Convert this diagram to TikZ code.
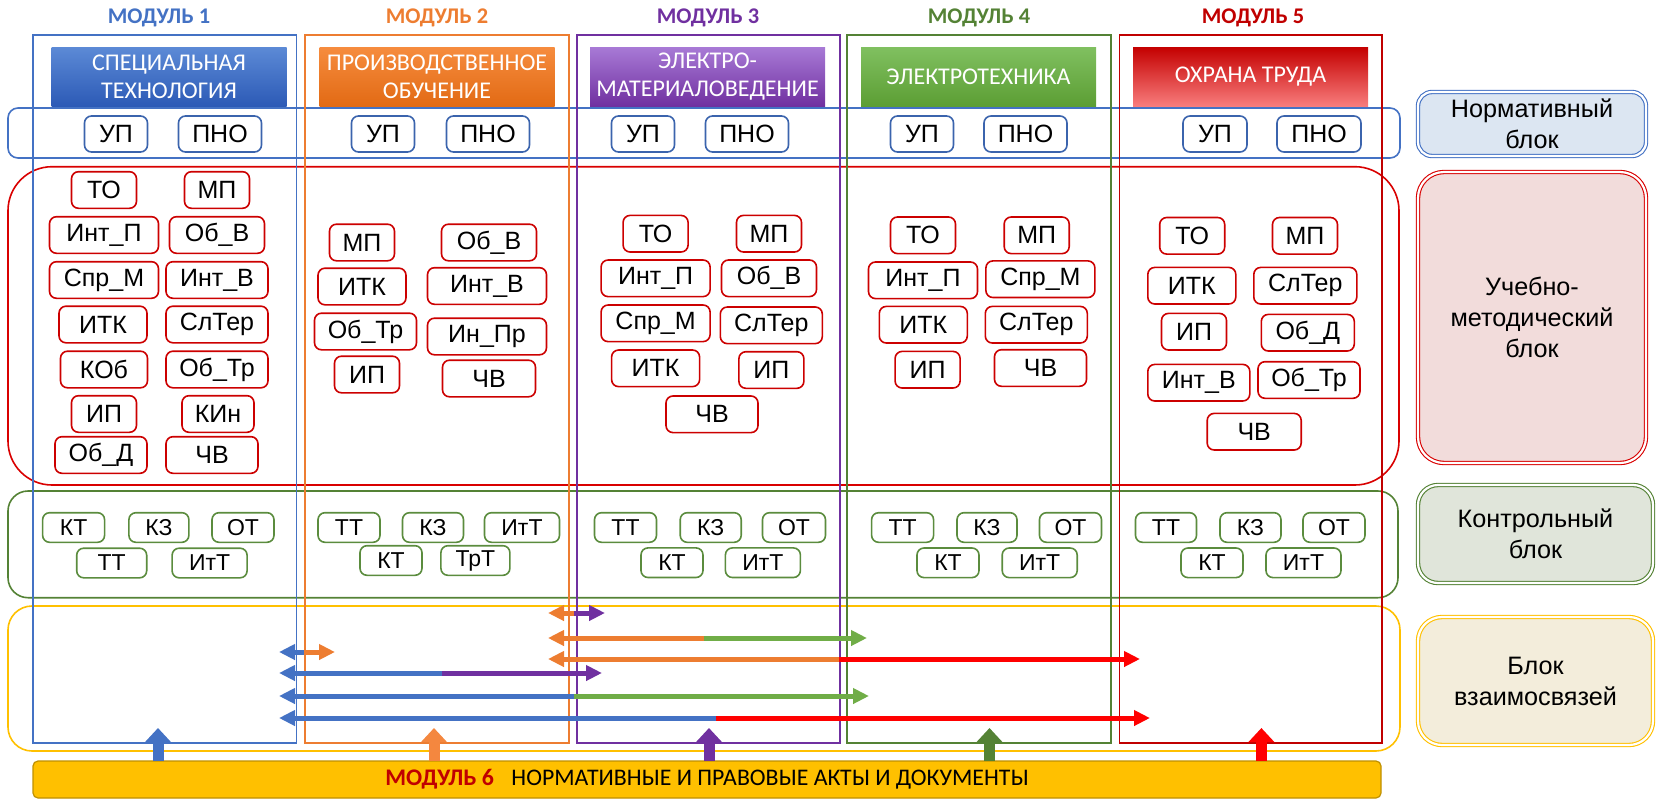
\documentclass[tikz,border=0pt]{standalone}
\usepackage{fontspec}
\setmainfont{Liberation Sans}
\newfontfamily\carl{Carlito}
\usetikzlibrary{arrows.meta}
\definecolor{cblue}{HTML}{4472C4}
\definecolor{corange}{HTML}{ED7D31}
\definecolor{clorange}{HTML}{F4873F}
\definecolor{cpurple}{HTML}{7030A0}
\definecolor{cgreen}{HTML}{548235}
\definecolor{clgreen}{HTML}{70AD47}
\definecolor{cred}{HTML}{C00000}
\definecolor{cbred}{HTML}{FF0000}
\definecolor{cgold}{HTML}{FFC000}
\definecolor{cdgold}{HTML}{BF9000}
\definecolor{nblue}{HTML}{3B64AD}
\definecolor{ured}{HTML}{CC0000}
\definecolor{kgreen}{HTML}{5B8C3E}
\definecolor{lblue}{HTML}{DCE6F2}
\definecolor{lpink}{HTML}{F2DCDB}
\definecolor{lgray}{HTML}{E0E5DA}
\definecolor{lcream}{HTML}{F3EDDB}
\definecolor{t1a}{RGB}{92,138,214}\definecolor{t1b}{RGB}{44,90,182}
\definecolor{t2a}{RGB}{246,140,62}\definecolor{t2b}{RGB}{226,106,20}
\definecolor{t3a}{RGB}{168,122,214}\definecolor{t3b}{RGB}{112,48,160}
\definecolor{t4a}{RGB}{128,192,96}\definecolor{t4b}{RGB}{92,158,52}
\definecolor{t5a}{RGB}{196,0,0}\definecolor{t5m}{RGB}{232,0,0}\definecolor{t5b}{RGB}{248,124,124}
\tikzset{
  x=0.5pt, y=-0.5pt,
  smallbox/.style={line width=0.8pt, rounded corners=3.5pt, inner sep=0pt, fill=white},
  nbox/.style={smallbox, draw=nblue, minimum height=18pt, font=\fontsize{12.5}{14}\selectfont},
  ubox/.style={smallbox, draw=ured, minimum height=18.3pt, font=\fontsize{12.5}{14}\selectfont},
  kbox/.style={smallbox, draw=kgreen, minimum height=14.8pt, font=\fontsize{11.5}{13}\selectfont},
  modrect/.style={line width=0.8pt},
  band/.style={line width=0.8pt},
  titlebox/.style={minimum width=117.5pt, minimum height=29.5pt, text=white, align=center, inner sep=0pt, font=\carl\fontsize{12}{14}\selectfont},
  modhead/.style={font=\carl\bfseries\fontsize{11.2}{13}\selectfont},
  lbl/.style={double=white, double distance=1.1pt, line width=0.55pt, align=center, inner sep=0pt, font=\fontsize{12.6}{15.5}\selectfont},
  harrow/.style={line width=2.5pt, -{Triangle[length=8pt,width=7.5pt]}},
  uparrow/.style={line width=5.5pt, -{Triangle[length=7pt,width=12.5pt]}},
}
\newcommand\bx[6]{\node[#1, minimum width=#5*0.5pt] (#2) at (#3,#4) {#6};}
\begin{document}
\begin{tikzpicture}
\useasboundingbox (0,0) rectangle (1656,799);
% bands
\draw[band, draw=cbred!85!black, rounded corners=22pt] (8,166.7) rectangle (1399,485);
\draw[band, draw=cblue, rounded corners=5pt] (8,108) rectangle (1400,158);
\draw[band, draw=cgreen, rounded corners=10pt] (8,491) rectangle (1398,597.7);
\draw[band, draw=cgold, rounded corners=12pt] (8,606) rectangle (1400,751);
% module rectangles
\draw[modrect, cblue] (33,35) rectangle (296.5,743);
\draw[modrect, corange] (305,35) rectangle (569,743);
\draw[modrect, cpurple] (577,35) rectangle (840,743);
\draw[modrect, cgreen] (847,35) rectangle (1111,743);
\draw[modrect, cred] (1119.5,35) rectangle (1382,743);
% headings
\node[modhead, text=cblue] (h1) at (159,18) {МОДУЛЬ 1};
\node[modhead, text=corange] (h2) at (437,18) {МОДУЛЬ 2};
\node[modhead, text=cpurple] (h3) at (708,18) {МОДУЛЬ 3};
\node[modhead, text=cgreen] (h4) at (979,18) {МОДУЛЬ 4};
\node[modhead, text=cred] (h5) at (1253,18) {МОДУЛЬ 5};
% titles
\node[titlebox, top color=t1a, bottom color=t1b] (t1) at (169,76.5) {СПЕЦИАЛЬНАЯ\\ТЕХНОЛОГИЯ};
\node[titlebox, top color=t2a, bottom color=t2b] (t2) at (437,76.5) {ПРОИЗВОДСТВЕННОЕ\\ОБУЧЕНИЕ};
\node[titlebox, top color=t3a, bottom color=t3b] (t3) at (707.5,76.5) {ЭЛЕКТРО-\\МАТЕРИАЛОВЕДЕНИЕ};
\node[titlebox, top color=t4a, bottom color=t4b] (t4) at (978.5,76.5) {ЭЛЕКТРОТЕХНИКА};
\node[titlebox, top color=t5a, middle color=t5m, bottom color=t5b] (t5) at (1250.5,76.5) {ОХРАНА ТРУДА};
% normative boxes
\bx{nbox}{n1u}{116}{134}{63}{УП}
\bx{nbox}{n1p}{220}{134}{83}{ПНО}
\bx{nbox}{n2u}{383}{134}{63}{УП}
\bx{nbox}{n2p}{488}{134}{83}{ПНО}
\bx{nbox}{n3u}{643}{134}{63}{УП}
\bx{nbox}{n3p}{747}{134}{83}{ПНО}
\bx{nbox}{n4u}{922}{134}{63}{УП}
\bx{nbox}{n4p}{1025.5}{134}{83}{ПНО}
\bx{nbox}{n5u}{1215}{134}{64}{УП}
\bx{nbox}{n5p}{1319}{134}{84}{ПНО}
% UMB module 1
\bx{ubox}{a1}{104}{190}{65}{ТО}
\bx{ubox}{a2}{217}{190}{65}{МП}
\bx{ubox}{a3}{104}{235}{109}{Инт\_П}
\bx{ubox}{a4}{217}{235}{95}{Об\_В}
\bx{ubox}{a5}{104}{280}{109}{Спр\_М}
\bx{ubox}{a6}{217}{280}{102}{Инт\_В}
\bx{ubox}{a7}{103}{324.5}{88}{ИТК}
\bx{ubox}{a8}{217}{324.5}{102}{СлТер}
\bx{ubox}{a9}{104}{369.5}{87}{КОб}
\bx{ubox}{a10}{217}{369.5}{102}{Об\_Тр}
\bx{ubox}{a11}{104}{414}{65}{ИП}
\bx{ubox}{a12}{218}{414}{72}{КИн}
\bx{ubox}{a13}{101}{455}{92}{Об\_Д}
\bx{ubox}{a14}{212}{455}{92}{ЧВ}
% UMB module 2
\bx{ubox}{b1}{362}{242.5}{65}{МП}
\bx{ubox}{b2}{489}{242.5}{95}{Об\_В}
\bx{ubox}{b3}{362}{286.5}{88}{ИТК}
\bx{ubox}{b4}{487}{286}{119}{Инт\_В}
\bx{ubox}{b5}{365.5}{331.5}{102}{Об\_Тр}
\bx{ubox}{b6}{487}{336.5}{119}{Ин\_Пр}
\bx{ubox}{b7}{367}{374.5}{65}{ИП}
\bx{ubox}{b8}{489}{378.5}{93}{ЧВ}
% UMB module 3
\bx{ubox}{c1}{655.6}{233.7}{65}{ТО}
\bx{ubox}{c2}{769}{233.7}{65}{МП}
\bx{ubox}{c3}{655.6}{278.3}{109}{Инт\_П}
\bx{ubox}{c4}{769}{278.3}{95}{Об\_В}
\bx{ubox}{c5}{655.6}{323.3}{109}{Спр\_М}
\bx{ubox}{c6}{771.3}{325.3}{102}{СлТер}
\bx{ubox}{c7}{655.6}{368.3}{88}{ИТК}
\bx{ubox}{c8}{771.4}{370}{65}{ИП}
\bx{ubox}{c9}{712}{414.3}{92}{ЧВ}
% UMB module 4
\bx{ubox}{d1}{923}{235.3}{65}{ТО}
\bx{ubox}{d2}{1036.7}{235.3}{65}{МП}
\bx{ubox}{d3}{923}{280.3}{109}{Инт\_П}
\bx{ubox}{d4}{1040.4}{279.2}{109}{Спр\_М}
\bx{ubox}{d5}{923.3}{324.7}{88}{ИТК}
\bx{ubox}{d6}{1036.3}{324.7}{102}{СлТер}
\bx{ubox}{d7}{927.6}{369.7}{65}{ИП}
\bx{ubox}{d8}{1040.5}{368}{92}{ЧВ}
% UMB module 5
\bx{ubox}{e1}{1192.2}{235.8}{65}{ТО}
\bx{ubox}{e2}{1305}{235.8}{65}{МП}
\bx{ubox}{e3}{1191.8}{285.7}{88}{ИТК}
\bx{ubox}{e4}{1305.3}{285.7}{103}{СлТер}
\bx{ubox}{e5}{1194}{331.7}{65}{ИП}
\bx{ubox}{e6}{1307.8}{332.7}{93}{Об\_Д}
\bx{ubox}{e7}{1198.8}{382.7}{102}{Инт\_В}
\bx{ubox}{e8}{1309}{380}{102}{Об\_Тр}
\bx{ubox}{e9}{1254.2}{431.7}{94}{ЧВ}
% control boxes
\bx{kbox}{k11}{73.6}{527.5}{62}{КТ}
\bx{kbox}{k12}{158.9}{527.5}{60}{КЗ}
\bx{kbox}{k13}{243}{527.5}{62}{ОТ}
\bx{kbox}{k14}{111.7}{563}{70}{ТТ}
\bx{kbox}{k15}{209.6}{563}{75}{ИтТ}
\bx{kbox}{k21}{349}{527.5}{62}{ТТ}
\bx{kbox}{k22}{433}{527.5}{61}{КЗ}
\bx{kbox}{k23}{522}{527.5}{75}{ИтТ}
\bx{kbox}{k24}{391}{560.5}{62}{КТ}
\bx{kbox}{k25}{475.4}{560.5}{69}{ТрТ}
\bx{kbox}{k31}{625.5}{527.5}{62}{ТТ}
\bx{kbox}{k32}{710.7}{527.5}{61}{КЗ}
\bx{kbox}{k33}{794}{527.5}{63}{ОТ}
\bx{kbox}{k34}{672}{562.7}{62}{КТ}
\bx{kbox}{k35}{762.9}{562.7}{75}{ИтТ}
\bx{kbox}{k41}{902.6}{527.5}{62}{ТТ}
\bx{kbox}{k42}{987}{527.5}{60}{КЗ}
\bx{kbox}{k43}{1070.5}{527.5}{62}{ОТ}
\bx{kbox}{k44}{948}{562.8}{62}{КТ}
\bx{kbox}{k45}{1039.7}{562.8}{75}{ИтТ}
\bx{kbox}{k51}{1166}{527.5}{61}{ТТ}
\bx{kbox}{k52}{1250.5}{527.5}{61}{КЗ}
\bx{kbox}{k53}{1334}{527.5}{62}{ОТ}
\bx{kbox}{k54}{1212}{562.8}{62}{КТ}
\bx{kbox}{k55}{1303.5}{562.8}{75}{ИтТ}
% right labels
\node[lbl, draw=cbred!85!black, fill=lpink, minimum width=114pt, minimum height=145.5pt, rounded corners=13pt] (L2) at (1532,317.5) {Учебно-\\методический\\блок};
\node[lbl, draw=cblue, fill=lblue, minimum width=114pt, minimum height=32pt, rounded corners=7pt] (L1) at (1532,124) {Нормативный\\блок};
\node[lbl, draw=cgreen, fill=lgray, minimum width=117.5pt, minimum height=49pt, rounded corners=10pt] (L3) at (1535.5,534) {Контрольный\\блок};
\node[lbl, draw=cgold, fill=lcream, minimum width=117.5pt, minimum height=64pt, rounded corners=12pt] (L4) at (1535.5,681) {Блок\\взаимосвязей};
% module 6 bar
\node[fill=cgold, draw=cdgold, line width=0.6pt, rounded corners=2.5pt, minimum width=674pt, minimum height=18.5pt, inner sep=0pt, font=\carl\fontsize{11.9}{13}\selectfont] (m6) at (707,779.5) {{\color{cred}\bfseries МОДУЛЬ 6}\hspace{6pt} НОРМАТИВНЫЕ И ПРАВОВЫЕ АКТЫ И ДОКУМЕНТЫ};
% up arrows
\foreach \nm/\xx in {u1/158, u2/434, u3/709, u4/989.5, u5/1261.4}{
  \coordinate (\nm s) at (\xx,760.5);
  \coordinate (\nm e) at (\xx,728);
}
\draw[uparrow, cblue] (u1s) -- (u1e);
\draw[uparrow, clorange] (u2s) -- (u2e);
\draw[uparrow, cpurple] (u3s) -- (u3e);
\draw[uparrow, cgreen] (u4s) -- (u4e);
\draw[uparrow, cbred] (u5s) -- (u5e);
% horizontal link arrows
\coordinate (aL) at (548,613); \coordinate (aM) at (574,613); \coordinate (aR) at (605,613);
\coordinate (bL) at (548,638); \coordinate (bM) at (704,638); \coordinate (bR) at (867,638);
\coordinate (cL) at (279,652); \coordinate (cM) at (304,652); \coordinate (cR) at (335,652);
\coordinate (dL) at (548,659); \coordinate (dM) at (839,659); \coordinate (dR) at (1140,659);
\coordinate (eL) at (279,673); \coordinate (eM) at (442,673); \coordinate (eR) at (602,673);
\coordinate (fL) at (279,696); \coordinate (fM) at (574,696); \coordinate (fR) at (869,696);
\coordinate (gL) at (279,718); \coordinate (gM) at (716,718); \coordinate (gR) at (1150,718);
\draw[harrow, corange] (aM) -- (aL); \draw[harrow, cpurple] (aM) -- (aR);
\draw[harrow, corange] (bM) -- (bL); \draw[harrow, clgreen] (bM) -- (bR);
\draw[harrow, cblue] (cM) -- (cL); \draw[harrow, corange] (cM) -- (cR);
\draw[harrow, corange] (dM) -- (dL); \draw[harrow, cbred] (dM) -- (dR);
\draw[harrow, cblue] (eM) -- (eL); \draw[harrow, cpurple] (eM) -- (eR);
\draw[harrow, cblue] (fM) -- (fL); \draw[harrow, clgreen] (fM) -- (fR);
\draw[harrow, cblue] (gM) -- (gL); \draw[harrow, cbred] (gM) -- (gR);
\end{tikzpicture}
\end{document}
